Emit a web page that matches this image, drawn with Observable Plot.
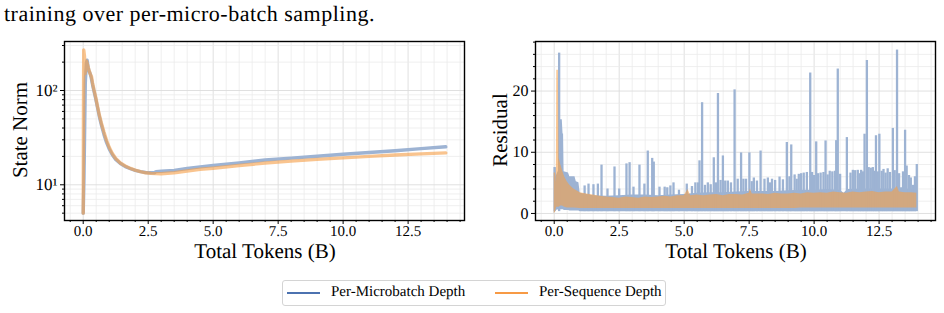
<!DOCTYPE html>
<html>
<head>
<meta charset="utf-8">
<script src="https://cdn.jsdelivr.net/npm/d3@7"></script>
<script src="https://cdn.jsdelivr.net/npm/@observablehq/plot@0.6"></script>
<style>
  body { margin: 0; background: #fff; }
  #page { position: relative; width: 944px; height: 313px; overflow: hidden; background: #fff; color: #000;
          text-rendering: geometricPrecision; }
  #page, #page div, #page span, #page svg, #page svg text {
    font-family: "Liberation Serif", "Times New Roman", serif !important;
  }
  .abs { position: absolute; white-space: nowrap; line-height: 1; }
  .panel { position: absolute; top: 0; }
  .title { transform: translateX(0.01px); }
  .ylabel { transform: translate(-50%, -50%) rotate(-90deg); font-size: 21px; }
  .xlabel { transform: translateX(-50%); font-size: 21px; }
  #legend { position: absolute; box-sizing: border-box; border: 1px solid #d4d4d4; border-radius: 3px; background: #fff; }
  #legend .sw { position: absolute; height: 2px; width: 33px; }
  #legend .lt { position: absolute; font-size: 15px; line-height: 1; white-space: nowrap; transform: translateX(0.01px); }
</style>
</head>
<body>
<div id="page">
  <div class="abs title" style="left:4px;top:3px;font-size:22px;letter-spacing:0.5px;">training over per-micro-batch sampling.</div>
  <div id="left" class="panel" style="left:0px;"></div>
  <div id="right" class="panel" style="left:471px;"></div>
  <div class="abs ylabel" style="left:19.6px;top:130px;">State Norm</div>
  <div class="abs ylabel" style="left:499.6px;top:130px;">Residual</div>
  <div class="abs xlabel" style="left:265px;top:241px;">Total Tokens (B)</div>
  <div class="abs xlabel" style="left:736px;top:241px;">Total Tokens (B)</div>
  <div id="legend" style="left:282px;top:280px;width:384px;height:26px;"></div>
</div>
<script>
// Series names and colours
const seriesNames = ["Per-Microbatch Depth", "Per-Sequence Depth"];
const legendColors = ["#4c72b0", "#f79a45"];
const blue = "#9db3d3";
const orange = "#f5a04a";

// Shared x ticks (billions of tokens)
const xTicks = [0, 2.5, 5, 7.5, 10, 12.5];
const xMinorTicks = [-0.5, 0.5, 1, 1.5, 2, 3, 3.5, 4, 4.5, 5.5, 6, 6.5, 7, 8, 8.5, 9, 9.5, 10.5, 11, 11.5, 12, 13, 13.5, 14, 14.5];

// State norm (log scale)
const logTicks = [10, 100];
const logTickLabels = ["10¹", "10²"];
const logMinorTicks = [5, 6, 7, 8, 9, 20, 30, 40, 50, 60, 70, 80, 90, 200, 300];

const stateTokensMicro = [0.00, 0.03, 0.05, 0.08, 0.12, 0.15, 0.19, 0.23, 0.27, 0.31, 0.36, 0.41, 0.48, 0.55, 0.62, 0.70, 0.80, 0.90, 1.00, 1.12, 1.25, 1.43, 1.62, 1.82, 2.00, 2.20, 2.40, 2.60, 2.75, 2.80, 3.00, 3.50, 4.00, 4.50, 5.00, 6.00, 7.00, 8.00, 9.00, 10.00, 11.00, 12.00, 13.00, 13.95];
const stateNormMicro   = [5.0, 12, 30, 120, 195, 210, 175, 160, 150, 135, 115, 100, 82, 66, 53, 43, 34, 28, 24, 20.8, 18.6, 16.8, 15.6, 14.8, 14.2, 13.8, 13.5, 13.4, 13.4, 13.8, 13.9, 14.2, 14.9, 15.5, 16.0, 17.1, 18.3, 19.2, 20.1, 21.1, 22.0, 23.0, 24.2, 25.3];

const stateTokensSeq = [0.00, 0.01, 0.02, 0.05, 0.07, 0.10, 0.13, 0.17, 0.22, 0.27, 0.32, 0.36, 0.41, 0.48, 0.55, 0.62, 0.70, 0.80, 0.90, 1.00, 1.12, 1.25, 1.43, 1.62, 1.82, 2.00, 2.20, 2.40, 2.60, 3.00, 3.50, 4.00, 4.50, 5.00, 6.00, 7.00, 8.00, 9.00, 10.00, 11.00, 12.00, 13.00, 13.95];
const stateNormSeq   = [5.0, 60, 270, 230, 150, 180, 205, 185, 165, 150, 140, 120, 103, 85, 68, 55, 45, 36, 29.5, 25, 21.5, 19, 17, 15.8, 14.9, 14.3, 13.8, 13.4, 13.2, 13.1, 13.4, 14.0, 14.6, 15.0, 16.0, 17.0, 17.8, 18.6, 19.3, 20.0, 20.7, 21.3, 21.8];

// Residual (linear scale)
const residualTicks = [0, 10, 20];
const residualMinorTicks = [2, 4, 6, 8, 12, 14, 16, 18, 22, 24, 26, 28];

// Per-microbatch residual: dense band envelope plus isolated spikes
const microBandTokens = [0.00, 0.04, 0.07, 0.17, 0.21, 0.31, 0.34, 0.36, 0.38, 0.55, 0.60, 0.80, 0.85, 0.95, 1.00, 1.50, 2.00, 2.50, 3.00, 3.50, 4.00, 4.50, 5.00, 5.50, 6.00, 6.50, 7.00, 7.50, 8.00, 8.50, 9.00, 9.50, 10.00, 10.50, 11.00, 11.15, 11.30, 12.00, 12.50, 13.00, 13.50, 13.95];
const microLow  = [0.0, 0.3, 0.5, 0.6, 0.6, 0.6, 0.6, 0.6, 0.5, 0.5, 0.4, 0.4, 0.4, 0.4, 0.3, 0.3, 0.3, 0.3, 0.3, 0.3, 0.3, 0.3, 0.3, 0.3, 0.3, 0.3, 0.3, 0.3, 0.3, 0.3, 0.3, 0.3, 0.3, 0.3, 0.3, 0.3, 0.3, 0.3, 0.3, 0.3, 0.3, 0.3];
const microHigh = [7.5, 7.5, 6.0, 7.0, 15.3, 15.3, 13.0, 13.0, 6.8, 6.6, 6.0, 6.0, 5.2, 5.0, 3.3, 2.9, 2.8, 2.9, 3.0, 3.0, 2.9, 3.0, 3.1, 3.3, 3.4, 3.4, 3.5, 3.6, 3.6, 3.6, 3.7, 3.8, 3.8, 3.9, 3.8, 3.3, 3.9, 4.0, 4.0, 4.0, 4.0, 3.9];

const microSpikeTokens = [0.02, 0.19, 1.17, 1.32, 1.51, 1.68, 1.82, 2.05, 2.32, 2.50, 2.78, 2.90, 3.05, 3.28, 3.47, 3.60, 3.77, 3.83, 4.05, 4.25, 4.35, 4.47, 4.59, 4.80, 5.10, 5.30, 5.43, 5.53, 5.59, 5.69, 5.80, 5.91, 6.02, 6.14, 6.22, 6.30, 6.40, 6.49, 6.58, 6.68, 6.80, 6.94, 7.06, 7.19, 7.28, 7.38, 7.51, 7.60, 7.68, 7.80, 7.94, 8.09, 8.22, 8.30, 8.38, 8.50, 8.67, 8.80, 8.95, 9.05, 9.12, 9.25, 9.33, 9.41, 9.50, 9.60, 9.72, 9.85, 9.92, 10.00, 10.08, 10.15, 10.25, 10.36, 10.44, 10.52, 10.60, 10.70, 10.80, 10.85, 10.91, 11.00, 11.26, 11.40, 11.49, 11.58, 11.68, 11.75, 11.81, 11.88, 11.94, 12.03, 12.10, 12.18, 12.26, 12.32, 12.38, 12.45, 12.51, 12.60, 12.67, 12.75, 12.83, 12.92, 13.03, 13.10, 13.19, 13.27, 13.35, 13.42, 13.50, 13.56, 13.65, 13.72, 13.80, 13.88, 13.95];
const microSpikeValues = [7.5, 26.2, 4.5, 4.8, 4.7, 4.8, 7.9, 4.0, 7.6, 4.0, 8.1, 8.3, 4.3, 7.9, 4.8, 10.2, 9.0, 8.4, 4.3, 4.3, 4.2, 4.5, 5.0, 3.8, 4.8, 4.4, 5.0, 5.0, 8.6, 18.1, 4.6, 5.0, 4.7, 9.1, 5.0, 19.6, 5.4, 9.4, 5.3, 5.3, 5.0, 20.2, 5.6, 9.9, 5.6, 5.6, 9.9, 5.2, 5.8, 5.3, 10.2, 5.6, 5.8, 5.0, 5.6, 5.4, 5.95, 5.5, 11.6, 6.0, 11.2, 6.3, 5.6, 6.4, 6.5, 6.6, 6.7, 22.95, 6.7, 6.2, 11.7, 6.5, 6.6, 6.7, 11.85, 6.3, 6.9, 6.8, 6.9, 11.9, 23.6, 6.4, 12.4, 6.6, 7.05, 7.0, 7.05, 6.5, 7.05, 6.8, 12.95, 25.0, 7.5, 7.4, 7.5, 6.9, 12.7, 6.8, 12.95, 6.9, 7.2, 6.6, 7.3, 6.7, 13.9, 7.0, 26.7, 6.5, 4.2, 6.8, 13.6, 7.75, 6.2, 5.8, 4.6, 6.0, 8.0];

// Per-sequence residual band
const seqBandTokens = [0.00, 0.05, 0.08, 0.10, 0.16, 0.19, 0.25, 0.32, 0.40, 0.50, 0.60, 0.75, 1.00, 1.25, 1.50, 1.75, 2.00, 2.25, 2.50, 2.75, 3.00, 3.25, 3.50, 3.75, 4.00, 4.25, 4.50, 4.75, 5.00, 5.15, 5.25, 5.50, 5.75, 6.00, 6.25, 6.50, 6.75, 7.00, 7.25, 7.50, 7.55, 7.62, 8.00, 8.25, 8.50, 8.75, 9.00, 9.25, 9.50, 9.75, 10.00, 10.25, 10.50, 10.75, 11.00, 11.25, 11.50, 11.75, 12.00, 12.25, 12.50, 12.75, 13.00, 13.20, 13.28, 13.50, 13.75, 13.95];
const seqLow  = [0.0, 0.2, 0.8, 1.0, 1.0, 1.0, 1.2, 1.2, 1.0, 0.9, 0.9, 0.9, 0.8, 0.8, 0.8, 0.8, 0.8, 0.8, 0.8, 0.8, 0.8, 0.8, 0.8, 0.8, 0.8, 0.8, 0.8, 0.8, 0.8, 0.8, 0.8, 0.8, 0.8, 0.8, 0.8, 0.8, 0.8, 0.8, 0.8, 0.8, 0.8, 0.8, 0.8, 0.8, 0.8, 0.8, 0.8, 0.8, 0.9, 0.9, 0.9, 0.9, 0.9, 0.9, 0.9, 0.9, 0.9, 0.9, 0.9, 0.9, 0.9, 0.9, 0.9, 0.9, 0.9, 0.9, 0.9, 0.9];
const seqHigh = [6.6, 6.6, 5.0, 23.4, 23.4, 9.0, 8.0, 7.0, 6.0, 5.2, 4.6, 4.0, 3.4, 3.2, 3.0, 2.8, 2.7, 2.6, 2.5, 2.7, 2.6, 2.5, 2.7, 2.6, 2.7, 2.8, 2.7, 2.9, 2.9, 3.9, 2.9, 3.0, 2.9, 3.0, 3.1, 2.9, 3.1, 3.1, 3.0, 3.3, 4.0, 3.2, 3.2, 3.1, 3.3, 3.2, 3.2, 3.3, 3.2, 3.4, 3.3, 3.4, 3.3, 3.5, 3.4, 3.3, 3.5, 3.4, 3.5, 3.6, 3.4, 3.5, 3.5, 4.4, 3.5, 3.4, 3.4, 3.3];

const font = "'Liberation Serif', 'Times New Roman', serif";
const frameOpts = {width: 472, height: 265, marginLeft: 64, marginRight: 8, marginTop: 41, marginBottom: 45};
const baseStyle = {fontFamily: font, fontSize: "15px", color: "black", background: "transparent", overflow: "visible"};
const gridMinor = {stroke: "#ebebeb", strokeWidth: 0.8};
const gridMajor = {stroke: "#dcdcdc", strokeWidth: 0.9};
const xDomain = [-0.72, 14.67];

const xAxes = [
  Plot.axisX(xMinorTicks, {tickSize: 2, tickFormat: () => "", label: null}),
  Plot.axisX(xTicks, {tickSize: 4, tickPadding: 1, tickFormat: d3.format(".1f"), label: null, fontSize: 15})
];

const left = Plot.plot({
  ...frameOpts,
  style: baseStyle,
  x: {domain: xDomain},
  y: {type: "log", domain: [4.18, 331]},
  marks: [
    Plot.ruleX(xMinorTicks, gridMinor),
    Plot.ruleX(xTicks, gridMajor),
    Plot.ruleY(logMinorTicks, gridMinor),
    Plot.ruleY(logTicks, gridMajor),
    Plot.line(stateTokensMicro, {x: stateTokensMicro, y: stateNormMicro, stroke: blue, strokeWidth: 3.4, strokeLinejoin: "round"}),
    Plot.line(stateTokensSeq, {x: stateTokensSeq, y: stateNormSeq, stroke: orange, strokeOpacity: 0.62, strokeWidth: 3.4, strokeLinejoin: "round"}),
    ...xAxes,
    Plot.axisY(logMinorTicks, {tickSize: 2, tickFormat: () => "", label: null}),
    Plot.axisY(logTicks, {tickSize: 4, tickPadding: 3, tickFormat: (d) => logTickLabels[logTicks.indexOf(d)], label: null, fontSize: 17}),
    Plot.frame({stroke: "black", strokeWidth: 1.4})
  ]
});
document.getElementById("left").appendChild(left);

const right = Plot.plot({
  ...frameOpts,
  style: baseStyle,
  x: {domain: xDomain},
  y: {domain: [-1.15, 28.1]},
  marks: [
    Plot.ruleX(xMinorTicks, gridMinor),
    Plot.ruleX(xTicks, gridMajor),
    Plot.ruleY(residualMinorTicks, gridMinor),
    Plot.ruleY(residualTicks, gridMajor),
    Plot.areaY(microBandTokens, {x: microBandTokens, y1: microLow, y2: microHigh, fill: blue}),
    Plot.ruleX(microSpikeTokens, {x: microSpikeTokens, y1: 0.3, y2: microSpikeValues, stroke: blue, strokeWidth: 2.3}),
    Plot.areaY(seqBandTokens, {x: seqBandTokens, y1: seqLow, y2: seqHigh, fill: orange, fillOpacity: 0.6}),
    ...xAxes,
    Plot.axisY(residualMinorTicks, {tickSize: 2, tickFormat: () => "", label: null}),
    Plot.axisY(residualTicks, {tickSize: 4, tickPadding: 3, label: null, fontSize: 16}),
    Plot.frame({stroke: "black", strokeWidth: 1.4})
  ]
});
document.getElementById("right").appendChild(right);

// Legend below both panels
const legend = document.getElementById("legend");
const swatchLeft = [4, 212];
seriesNames.forEach((name, i) => {
  const sw = document.createElement("span");
  sw.className = "sw";
  sw.style.left = swatchLeft[i] + "px";
  sw.style.top = "11px";
  sw.style.background = legendColors[i];
  legend.appendChild(sw);
  const lt = document.createElement("span");
  lt.className = "lt";
  lt.style.left = (swatchLeft[i] + 44) + "px";
  lt.style.top = "4px";
  lt.textContent = name;
  legend.appendChild(lt);
});
</script>
</body>
</html>
